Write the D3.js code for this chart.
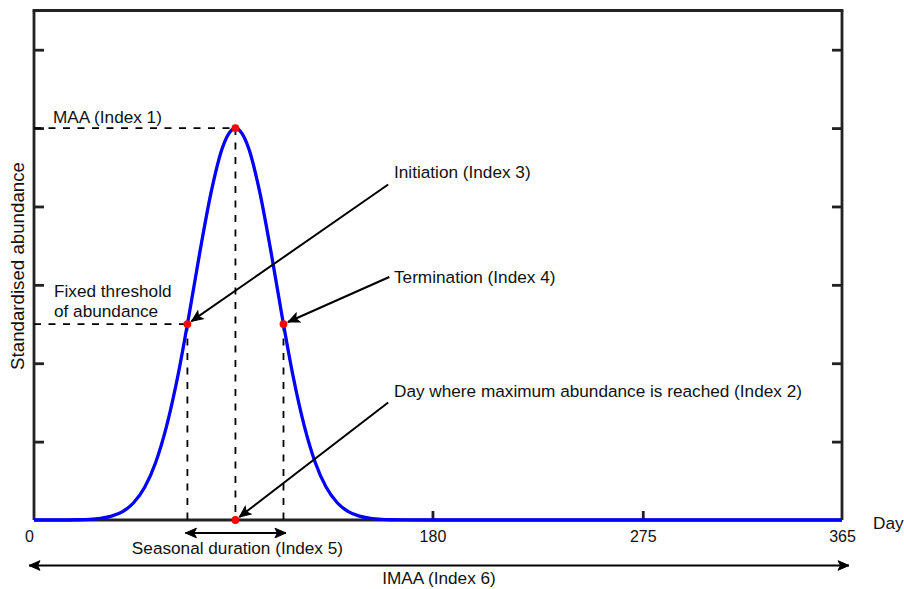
<!DOCTYPE html>
<html>
<head>
<meta charset="utf-8">
<script src="https://cdn.jsdelivr.net/npm/d3@7/dist/d3.min.js"></script>
<style>
  html, body { margin: 0; padding: 0; background: #fff; }
  svg { display: block; }
  text { font-family: "Liberation Sans", Arial, sans-serif; fill: #111; }
</style>
</head>
<body>
<svg id="chart" width="904" height="589"></svg>
<script>
// ---- data ----
const days      = [0, 10, 20, 25, 30, 35, 40, 45, 50, 55, 60, 65, 70, 75, 80, 85, 88, 91, 94, 97, 102, 107, 112, 117, 122, 127, 132, 137, 142, 147, 152, 157, 162, 167, 180, 220, 275, 320, 365];
const abundance = [0, 0, 0.003, 0.008, 0.021, 0.049, 0.107, 0.220, 0.417, 0.737, 1.21, 1.84, 2.61, 3.43, 4.18, 4.74, 4.93, 5, 4.93, 4.74, 4.18, 3.43, 2.61, 1.84, 1.21, 0.737, 0.417, 0.220, 0.107, 0.049, 0.021, 0.008, 0.003, 0.001, 0, 0, 0, 0, 0];
const xTickValues = [0, 180, 275, 365];
const yTickValues = [1, 2, 3, 4, 5, 6];
const peakDay = 91, peakValue = 5;
const threshold = 2.5;
const initiationDay = 69.3, terminationDay = 112.7;
const labels = {
  maa: "MAA (Index 1)",
  threshold: ["Fixed threshold", "of abundance"],
  initiation: "Initiation (Index 3)",
  termination: "Termination (Index 4)",
  dayMax: "Day where maximum abundance is reached (Index 2)",
  duration: "Seasonal duration (Index 5)",
  imaa: "IMAA (Index 6)",
  xTitle: "Day",
  yTitle: "Standardised abundance"
};
// annotation arrow starts (day, value)
const initiationFrom  = [160, 4.28];
const terminationFrom = [160.5, 3.10];
const dayMaxFrom      = [160, 1.50];

// ---- layout ----
const svg = d3.select("#chart");
const pLeft = 34, pRight = 842, pTop = 10.5, pBottom = 520;
const x = d3.scaleLinear().domain([0, 365]).range([pLeft, pRight]);
const y = d3.scaleLinear().domain([0, 6.5]).range([pBottom, pTop]);

const defs = svg.append("defs");
defs.append("marker")
  .attr("id", "head").attr("viewBox", "-13 -6 14 12")
  .attr("refX", 0).attr("refY", 0)
  .attr("markerWidth", 14).attr("markerHeight", 12)
  .attr("markerUnits", "userSpaceOnUse")
  .attr("orient", "auto-start-reverse")
  .append("path")
  .attr("d", "M0,0 L-11,-4.8 L-8.5,0 L-11,4.8 Z")
  .attr("fill", "#000").attr("stroke", "#000").attr("stroke-width", 1).attr("stroke-linejoin", "miter");

const frameColor = "#222";

// axes
const gLeft = svg.append("g").attr("transform", `translate(${pLeft},0)`)
  .call(d3.axisLeft(y).tickValues(yTickValues).tickSize(-10).tickFormat(""));
const gRight = svg.append("g").attr("transform", `translate(${pRight},0)`)
  .call(d3.axisRight(y).tickValues(yTickValues).tickSize(-10).tickFormat(""));
const gBottom = svg.append("g").attr("transform", `translate(0,${pBottom})`)
  .call(d3.axisBottom(x).tickValues(xTickValues).tickSize(-9).tickPadding(11).tickFormat(d3.format("d")));
const gTop = svg.append("g").attr("transform", `translate(0,${pTop})`)
  .call(d3.axisTop(x).tickValues([]).tickSizeOuter(0));

[gLeft, gRight, gBottom, gTop].forEach(g => {
  g.select(".domain").attr("stroke", frameColor).attr("stroke-width", 2.8);
  g.selectAll(".tick line").attr("stroke", frameColor).attr("stroke-width", 2.8);
});
[gLeft, gRight].forEach(g => g.select(".domain").attr("d", `M0,${pTop}V${pBottom}`));
gBottom.select(".domain").attr("d", `M${pLeft},0H${pRight}`);
gTop.select(".domain").attr("d", `M${pLeft - 1.4},0H${pRight + 1.4}`);
gBottom.selectAll(".tick text")
  .attr("font-family", '"Liberation Sans", Arial, sans-serif')
  .attr("font-size", 16).attr("fill", "#222")
  .attr("dx", d => d === 0 ? -5 : 0);
gBottom.selectAll(".tick").filter(d => d === 0 || d === 365).select("line").remove();

// dashed guides
const dash = "7,7.5";
const guides = svg.append("g").attr("stroke", "#000").attr("stroke-width", 1.8).attr("stroke-dasharray", dash).attr("fill", "none");
guides.append("line").attr("x1", x(0)).attr("x2", x(peakDay)).attr("y1", y(peakValue)).attr("y2", y(peakValue));
guides.append("line").attr("x1", x(peakDay)).attr("x2", x(peakDay)).attr("y1", y(peakValue)).attr("y2", y(0));
guides.append("line").attr("x1", x(0)).attr("x2", x(initiationDay)).attr("y1", y(threshold)).attr("y2", y(threshold));
guides.append("line").attr("x1", x(initiationDay)).attr("x2", x(initiationDay)).attr("y1", y(threshold)).attr("y2", y(0));
guides.append("line").attr("x1", x(terminationDay)).attr("x2", x(terminationDay)).attr("y1", y(threshold)).attr("y2", y(0));

// curve
const series = days.map((d, i) => [d, abundance[i]]);
svg.append("path").datum(series)
  .attr("fill", "none").attr("stroke", "#0000ff").attr("stroke-width", 3.3)
  .attr("stroke-linejoin", "round")
  .attr("d", d3.line().x(d => x(d[0])).y(d => y(d[1])).curve(d3.curveMonotoneX));

// arrows
function arrow(x1, y1, x2, y2, shorten, both) {
  const dx = x2 - x1, dy = y2 - y1, L = Math.hypot(dx, dy);
  const ex = x2 - dx / L * shorten, ey = y2 - dy / L * shorten;
  const l = svg.append("line").attr("x1", x1).attr("y1", y1).attr("x2", ex).attr("y2", ey)
    .attr("stroke", "#000").attr("stroke-width", 2).attr("marker-end", "url(#head)");
  if (both) l.attr("marker-start", "url(#head)");
}
arrow(x(initiationFrom[0]), y(initiationFrom[1]), x(initiationDay), y(threshold), 5, false);
arrow(x(terminationFrom[0]), y(terminationFrom[1]), x(terminationDay), y(threshold), 5, false);
arrow(x(dayMaxFrom[0]), y(dayMaxFrom[1]), x(peakDay), y(0), 5, false);
arrow(x(initiationDay) - 2, pBottom + 13, x(terminationDay) + 2.5, pBottom + 13, 0, true);
arrow(x(0) - 5, pBottom + 45.5, x(365) + 7, pBottom + 45.5, 0, true);

// red points
const pts = [[initiationDay, threshold], [peakDay, peakValue], [terminationDay, threshold], [peakDay, 0]];
svg.append("g").selectAll("circle").data(pts).join("circle")
  .attr("cx", d => x(d[0])).attr("cy", d => y(d[1])).attr("r", 3.9).attr("fill", "#ff0000");

// texts
const fs = 17.2;
function txt(s, tx, ty, anchor) {
  return svg.append("text").attr("x", tx).attr("y", ty).attr("font-size", fs)
    .attr("text-anchor", anchor || "start").text(s);
}
txt(labels.maa, 53, 123);
txt(labels.threshold[0], 54, 296.5);
txt(labels.threshold[1], 54, 317);
txt(labels.initiation, 394, 178);
txt(labels.termination, 394, 283);
txt(labels.dayMax, 394, 396.5);
txt(labels.duration, (x(initiationDay) + x(terminationDay)) / 2 + 2, 554, "middle");
txt(labels.imaa, (x(0) + x(365)) / 2 + 1, 584, "middle");
txt(labels.xTitle, 873, 529);
svg.append("text").attr("transform", "translate(24,266) rotate(-90)")
  .attr("text-anchor", "middle").attr("font-size", 18.7).text(labels.yTitle);
</script>
</body>
</html>
